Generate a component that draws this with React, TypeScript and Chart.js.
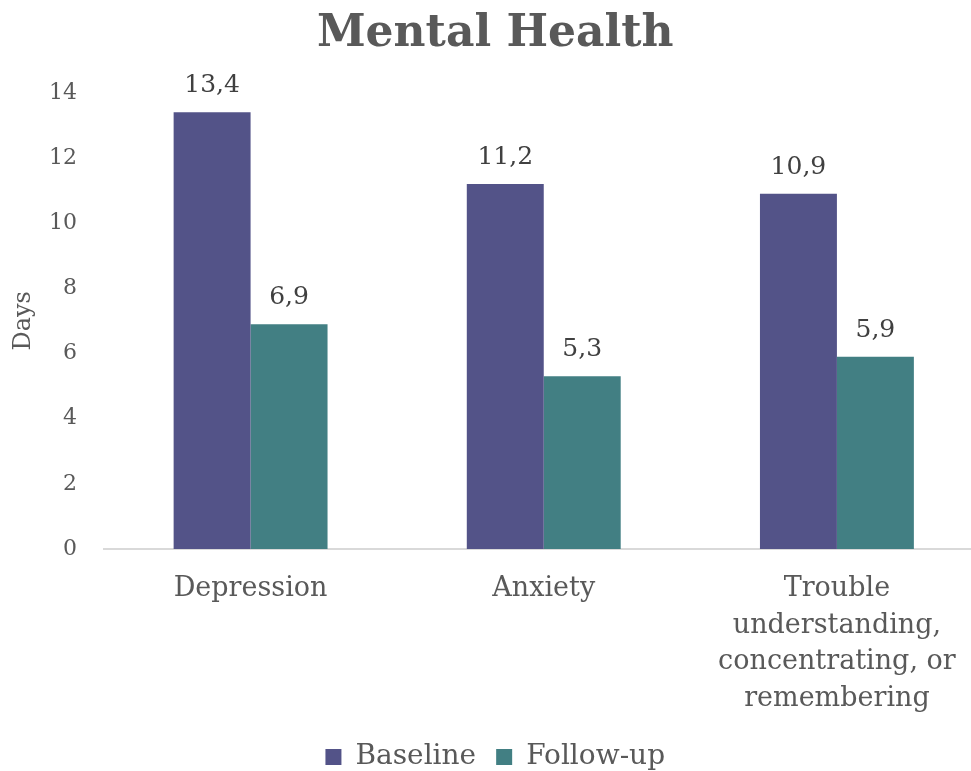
import React, { useEffect, useRef } from "react";
import { Chart, registerables } from "chart.js";

Chart.register(...registerables);

const categories: (string | string[])[] = [
  "Depression",
  "Anxiety",
  ["Trouble", "understanding,", "concentrating, or", "remembering"],
];
const baselineValues = [13.4, 11.2, 10.9];
const followUpValues = [6.9, 5.3, 5.9];
const seriesNames = ["Baseline", "Follow-up"];
const yTicksMax = 14;
const yStep = 2;

const FONT = "'DejaVu Serif', serif";

const dataLabelPlugin = {
  id: "dataLabels",
  afterDatasetsDraw(chart: any) {
    const ctx = chart.ctx;
    ctx.save();
    ctx.font = `25px ${FONT}`;
    ctx.fillStyle = "#404040";
    ctx.textAlign = "center";
    ctx.textBaseline = "alphabetic";
    chart.data.datasets.forEach((ds: any, di: number) => {
      const meta = chart.getDatasetMeta(di);
      meta.data.forEach((bar: any, i: number) => {
        const v = ds.data[i] as number;
        const txt = v.toFixed(1).replace(".", ",");
        ctx.fillText(txt, bar.x, bar.y - 20);
      });
    });
    ctx.restore();
  },
};

export default function App() {
  const ref = useRef<HTMLCanvasElement>(null);
  useEffect(() => {
    if (!ref.current) return;
    const chart = new Chart(ref.current, {
      type: "bar",
      data: {
        labels: categories,
        datasets: [
          {
            label: seriesNames[0],
            data: baselineValues,
            backgroundColor: "#535388",
            borderWidth: 0,
          },
          {
            label: seriesNames[1],
            data: followUpValues,
            backgroundColor: "#427F83",
            borderWidth: 0,
          },
        ],
      },
      options: {
        animation: false,
        responsive: false,
        maintainAspectRatio: false,
        layout: { padding: { left: 7, right: 6.5, top: 0, bottom: -10 } },
        datasets: {
          bar: { categoryPercentage: 0.525, barPercentage: 1 },
        },
        plugins: {
          title: {
            display: true,
            text: "Mental Health",
            color: "#595959",
            font: { family: FONT, size: 44, weight: "bold" },
            padding: { top: 8, bottom: 32 },
          },
          legend: {
            display: true,
            position: "bottom",
            labels: {
              boxWidth: 16,
              boxHeight: 16,
              color: "#595959",
              font: { family: FONT, size: 28 },
              padding: 20,
            },
          },
          tooltip: { enabled: false },
        },
        scales: {
          x: {
            grid: { display: false },
            border: { display: true, color: "#d9d9d9", width: 2 },
            ticks: {
              color: "#595959",
              font: { family: FONT, size: 27, lineHeight: 1.35 },
              padding: 14,
              maxRotation: 0,
              autoSkip: false,
            },
            afterFit: (s: any) => {
              s.height = 174;
            },
          },
          y: {
            min: 0,
            max: yTicksMax,
            grid: { display: false, drawTicks: false },
            border: { display: false },
            ticks: {
              stepSize: yStep,
              color: "#595959",
              font: { family: FONT, size: 22 },
              padding: 27,
            },
            title: {
              display: true,
              text: "Days",
              color: "#595959",
              font: { family: FONT, size: 24 },
              padding: { top: 2, bottom: 0 },
            },
            afterFit: (s: any) => {
              s.width = 97;
            },
          },
        },
      },
      plugins: [dataLabelPlugin],
    });
    return () => chart.destroy();
  }, []);
  return (
    <div
      style={{
        position: "fixed",
        left: 0,
        top: 0,
        width: 971,
        height: 771,
        overflow: "hidden",
        background: "#fff",
      }}
    >
      <canvas ref={ref} width={990} height={771} style={{ display: "block" }} />
    </div>
  );
}
